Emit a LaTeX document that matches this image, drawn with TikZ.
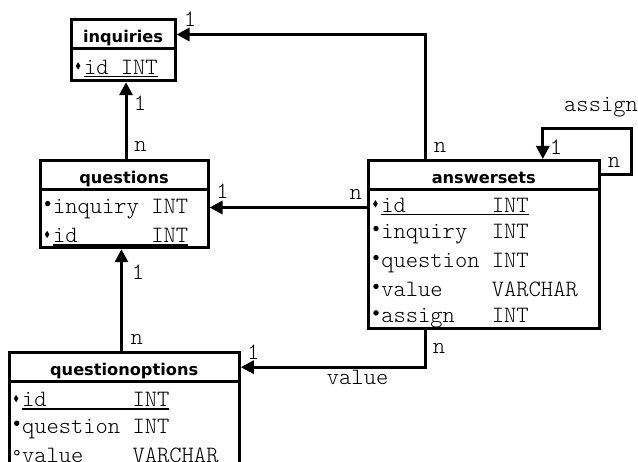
\documentclass[tikz,border=0pt]{standalone}
\usepackage{fontspec}
\setmonofont{Latin Modern Mono Light}
\newfontfamily\headfont{DejaVu Sans}
\usetikzlibrary{positioning,calc,arrows.meta}

% row strut and field markers
\newcommand{\rs}{\rule[-4pt]{0pt}{26.5pt}}
\newcommand{\mkpk}{\tikz[baseline=0pt,x=1pt,y=1pt]{\useasboundingbox (0,0) rectangle (9.5,1);
  \fill (3.6,4.5) -- (5.9,8.2) -- (3.6,11.9) -- (1.3,8.2) -- cycle;}}
\newcommand{\mkfk}{\tikz[baseline=0pt,x=1pt,y=1pt]{\useasboundingbox (0,0) rectangle (9.5,1);
  \fill (4.2,10) circle (2.7);}}
\newcommand{\mkop}{\tikz[baseline=0pt,x=1pt,y=1pt]{\useasboundingbox (0,0) rectangle (9.5,1);
  \draw[line width=0.9pt] (4.3,9.5) circle (2.3);}}
\newcommand{\pkrow}[3]{\rs\mkpk\sbox0{\makebox[#1][l]{#2}#3}\rlap{\rule[-3pt]{\wd0}{1.4pt}}\usebox0}
\newcommand{\fkrow}[3]{\rs\mkfk\makebox[#1][l]{#2}#3}
\newcommand{\oprow}[3]{\rs\mkop\makebox[#1][l]{#2}#3}

\tikzset{
  tblhead/.style={draw, line width=3pt, outer sep=0pt, minimum height=29pt,
    font=\headfont\bfseries\fontsize{16.2}{19}\selectfont, text height=17pt, text depth=0.4pt},
  tblbody/.style={draw, line width=3pt, outer sep=0pt, inner xsep=3.5pt, inner ysep=0pt,
    align=left, font=\ttfamily\fontsize{23.4}{26.5}\selectfont},
  rel/.style={line width=3pt, -{Triangle[length=13pt,width=13pt]}, shorten >=1.5pt},
  card/.style={font=\ttfamily\fontsize{23.4}{26}\selectfont, inner sep=0pt},
}

\begin{document}
\begin{tikzpicture}[x=1pt,y=-1pt]
  \useasboundingbox (0,0) rectangle (638,462);
  \clip (0,0) rectangle (638,462);
  % Tables
  \node[tblhead, minimum width=104pt] (inq) at (123,34.5) {inquiries};
  \node[tblbody, minimum width=104pt, text width=97pt, minimum height=31.7pt,
        below=0pt of inq] (inqb) {\pkrow{1.575em}{id}{INT}};
  \node[tblhead, minimum width=168pt] (qs) at (124,175.5) {questions};
  \node[tblbody, minimum width=168pt, text width=161pt, minimum height=57.7pt,
        below=0pt of qs] (qsb) {\fkrow{4.2em}{inquiry}{INT}\\
                                \pkrow{4.2em}{id}{INT}};
  \node[tblhead, minimum width=230.3pt] (qo) at (124.15,367.2) {questionoptions};
  \node[tblbody, minimum width=230.3pt, text width=223.3pt, minimum height=87.1pt,
        below=0pt of qo] (qob) {\pkrow{4.725em}{id}{INT}\\
                                \fkrow{4.725em}{question}{INT}\\
                                \oprow{4.725em}{value}{VARCHAR}};
  \node[tblhead, minimum width=231pt] (as) at (483.8,175) {answersets};
  \node[tblbody, minimum width=231pt, text width=224pt, minimum height=139pt,
        below=0pt of as] (asb) {\pkrow{4.725em}{id}{INT}\\
                                \fkrow{4.725em}{inquiry}{INT}\\
                                \fkrow{4.725em}{question}{INT}\\
                                \fkrow{4.725em}{value}{VARCHAR}\\
                                \fkrow{4.725em}{assign}{INT}};
  % Relations
  \coordinate (qsup) at ([xshift=2pt]qs.north);
  \coordinate (qoup) at ([xshift=-2.7pt]qo.north);
  \coordinate (asl)  at ([yshift=-18pt]asb.north west);
  \draw[rel] ([xshift=-58pt]as.north) |- (inq.east);
  \draw[rel] (qsup) -- (qsup |- inqb.south);
  \draw[rel] (asl) -- (asl -| qsb.east);
  \draw[rel] (qoup) -- (qoup |- qsb.south);
  \draw[rel] ([xshift=-58pt]asb.south) |- (qo.east);
  \draw[rel] (as.east) -- ++(32.4,0) -- ++(0,-46.7) -| ([xshift=59pt]as.north);
  % Cardinalities
  \node[card] (c1)  at (190,19.2)    {1};
  \node[card] (c2)  at (440,147)     {n};
  \node[card] (c3)  at (140,103)     {1};
  \node[card] (c4)  at (140.5,146.7) {n};
  \node[card] (c5)  at (222.5,191)   {1};
  \node[card] (c6)  at (355.8,194.2) {n};
  \node[card] (c7)  at (138,272)     {1};
  \node[card] (c8)  at (136.7,339)   {n};
  \node[card] (c9)  at (253.3,352.5) {1};
  \node[card] (c10) at (439,348)     {n};
  \node[card] (c11) at (556,147.5)   {1};
  \node[card] (c12) at (614,162.5)   {n};
  \node[card, anchor=base west] (assign) at (564,111.5) {assign};
  \node[card, anchor=base west] (value)  at (326.7,385) {value};
\end{tikzpicture}
\end{document}
